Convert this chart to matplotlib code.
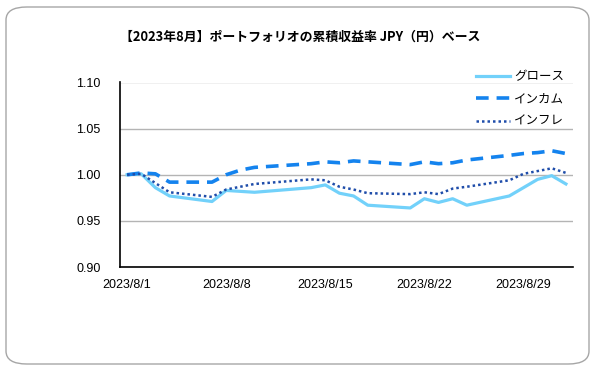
import datetime as dt
import matplotlib
matplotlib.use("Agg")
import matplotlib.pyplot as plt
from matplotlib.patches import FancyBboxPatch

# --- data ---
dates = ["2023-08-01", "2023-08-02", "2023-08-03", "2023-08-04",
         "2023-08-07", "2023-08-08", "2023-08-09", "2023-08-10",
         "2023-08-14", "2023-08-15", "2023-08-16", "2023-08-17", "2023-08-18",
         "2023-08-21", "2023-08-22", "2023-08-23", "2023-08-24", "2023-08-25",
         "2023-08-28", "2023-08-29", "2023-08-30", "2023-08-31", "2023-09-01"]

growth = [1.000, 1.001, 0.986, 0.977,
          0.971, 0.983, 0.982, 0.981,
          0.986, 0.989, 0.980, 0.977, 0.967,
          0.964, 0.974, 0.970, 0.974, 0.967,
          0.977, 0.986, 0.995, 0.999, 0.990]

income = [1.000, 1.002, 1.001, 0.992,
          0.992, 1.000, 1.005, 1.008,
          1.012, 1.014, 1.013, 1.015, 1.014,
          1.011, 1.014, 1.012, 1.013, 1.016,
          1.021, 1.023, 1.024, 1.026, 1.023]

inflation = [1.000, 1.001, 0.991, 0.981,
             0.976, 0.984, 0.987, 0.990,
             0.995, 0.994, 0.987, 0.984, 0.980,
             0.979, 0.981, 0.979, 0.985, 0.987,
             0.994, 1.001, 1.004, 1.007, 1.002]

labels = ["グロース", "インカム", "インフレ"]
title = "【2023年8月】ポートフォリオの累積収益率 JPY（円）ベース"
tick_dates = ["2023-08-01", "2023-08-08", "2023-08-15", "2023-08-22", "2023-08-29"]
yticks = [0.90, 0.95, 1.00, 1.05, 1.10]

JP = ["Noto Sans CJK JP", "DejaVu Sans"]
NUM = ["Liberation Sans", "DejaVu Sans"]

x = [dt.datetime.strptime(d, "%Y-%m-%d") for d in dates]
xt = [dt.datetime.strptime(d, "%Y-%m-%d") for d in tick_dates]

fig = plt.figure(figsize=(5.95, 3.70), dpi=100, facecolor="white")

# rounded chart border
fig.patches.append(FancyBboxPatch(
    (6 / 595, 6 / 370), 583 / 595, 357 / 370,
    boxstyle="round,pad=0,rounding_size=0.035",
    transform=fig.transFigure, figure=fig,
    facecolor="none", edgecolor="#A6A6A6", linewidth=1.0, zorder=-1))

ax = fig.add_axes([120 / 595, 1 - 267 / 370, 453 / 595, 184.5 / 370])
ax.set_facecolor("none")

ax.plot(x, growth, color="#72D1FA", lw=2.3, solid_joinstyle="round", label=labels[0], zorder=3)
ax.plot(x, income, color="#1483EE", lw=2.6, linestyle=(0, (3.5, 2.2)), label=labels[1], zorder=3)
ax.plot(x, inflation, color="#1F4DAA", lw=1.8, linestyle=(0, (1, 1.2)), label=labels[2], zorder=3)

ax.set_ylim(0.90, 1.10)
ax.set_yticks(yticks)
ax.set_yticklabels([f"{v:.2f}" for v in yticks], fontfamily=NUM, fontsize=9)
ax.set_xlim(x[0] - dt.timedelta(hours=12), x[-1] + dt.timedelta(hours=12))
ax.set_xticks(xt)
ax.set_xticklabels([f"{d.year}/{d.month}/{d.day}" for d in xt], fontfamily=NUM, fontsize=9)
ax.tick_params(axis="both", length=0, colors="black")
ax.tick_params(axis="y", pad=14)
ax.tick_params(axis="x", pad=9)

ax.grid(axis="y", color="#B4B4B4", lw=1.0, zorder=0)
ax.set_axisbelow(True)
for s in ["top", "right"]:
    ax.spines[s].set_visible(False)
for s in ["left", "bottom"]:
    ax.spines[s].set_color("black")
    ax.spines[s].set_linewidth(1.2)

fig.text(300 / 595, 1 - 37 / 370, title, ha="center", va="center",
         fontsize=9.3, fontweight="bold", fontfamily=JP)

leg = ax.legend(loc="upper left", bbox_to_anchor=(470 / 595, 1 - 64 / 370),
                bbox_transform=fig.transFigure, frameon=False,
                prop={"family": JP, "size": 9}, handlelength=2.7,
                handletextpad=0.35, labelspacing=0.75, borderpad=0)

fig.savefig("out.png", dpi=100)
